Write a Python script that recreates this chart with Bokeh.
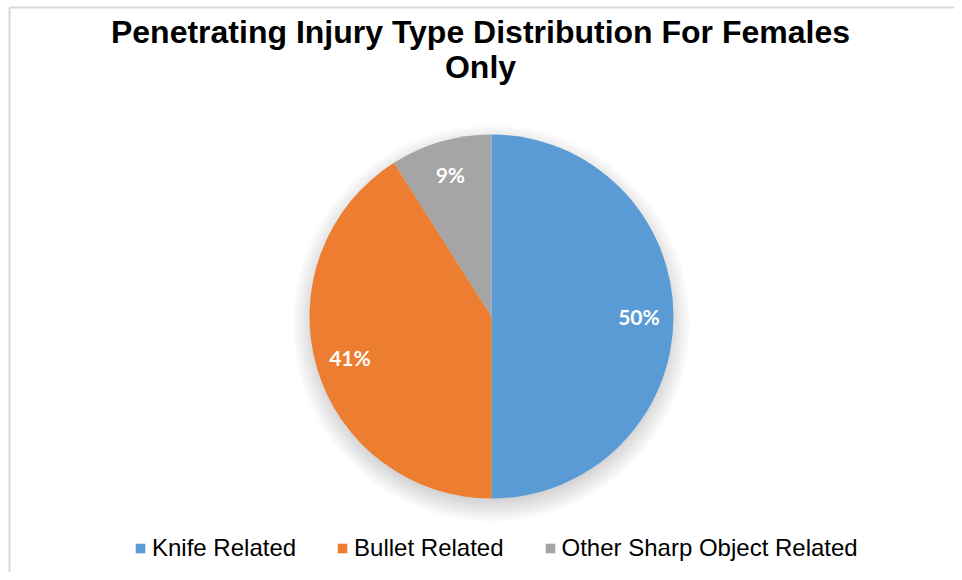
import numpy as np
from bokeh.plotting import figure
from bokeh.models import Range1d, Legend, LegendItem, ColumnDataSource
from bokeh.core.properties import value
from bokeh.embed import file_html
from bokeh.resources import INLINE

# ---- data ----
title_lines = ["Penetrating Injury Type Distribution For Females", "Only"]
categories = ["Knife Related", "Bullet Related", "Other Sharp Object Related"]
percents = [50, 41, 9]
colors = ["#5B9BD5", "#ED7D31", "#A5A5A5"]

W, H = 954, 572
p = figure(width=W, height=H, x_range=Range1d(0, W), y_range=Range1d(0, H),
           output_backend="svg", toolbar_location=None, min_border=0,
           outline_line_color=None)
p.axis.visible = False
p.grid.visible = False
p.background_fill_color = "white"
p.border_fill_color = "white"

# chart frame (top and left edges visible)
p.segment(x0=[9, 9], y0=[0, 565], x1=[9, W], y1=[565, 565],
          line_color="#d9d9d9", line_width=2)

cx, cy, R = 491, 256, 182

# soft shadow
for i in range(14):
    p.circle(x=[cx], y=[cy - 7], radius=R - 4 + i * 1.6,
             fill_color="black", fill_alpha=0.012, line_color=None)

vals = np.array(percents, dtype=float)
fr = vals / vals.sum()
cum = np.concatenate([[0], np.cumsum(fr)])
start = np.pi / 2 - cum[:-1] * 2 * np.pi
end = np.pi / 2 - cum[1:] * 2 * np.pi
mid = (start + end) / 2

src = ColumnDataSource(dict(x=[cx] * 3, y=[cy] * 3, start=start, end=end,
                            color=colors, label=categories))
wr = p.wedge(x="x", y="y", radius=R, start_angle="start", end_angle="end",
             direction="clock", fill_color="color", line_color="white",
             line_width=0, line_alpha=0, source=src)

lab_r = 0.81 * R
p.text(x=cx + lab_r * np.cos(mid), y=cy + lab_r * np.sin(mid),
       text=[f"{v}%" for v in percents], text_color="white",
       text_font=value("Lato"), text_font_style="bold", text_font_size="21px",
       text_align="center", text_baseline="middle")

# title
p.text(x=[480, 480], y=[541, 506], text=title_lines,
       text_font=value("Liberation Sans"), text_font_style="bold",
       text_font_size="32px", text_color="black",
       text_align="center", text_baseline="alphabetic")

items = [LegendItem(label=c, renderers=[wr], index=i) for i, c in enumerate(categories)]
legend = Legend(items=items, orientation="horizontal", location=(134, 10),
                glyph_width=12, glyph_height=12, label_standoff=6, spacing=40,
                padding=0, margin=0, border_line_color=None,
                background_fill_alpha=0,
                label_text_font="Liberation Sans", label_text_font_size="24px",
                label_text_color="black")
p.add_layout(legend, "center")

open("out.html", "w").write(file_html(p, INLINE))
